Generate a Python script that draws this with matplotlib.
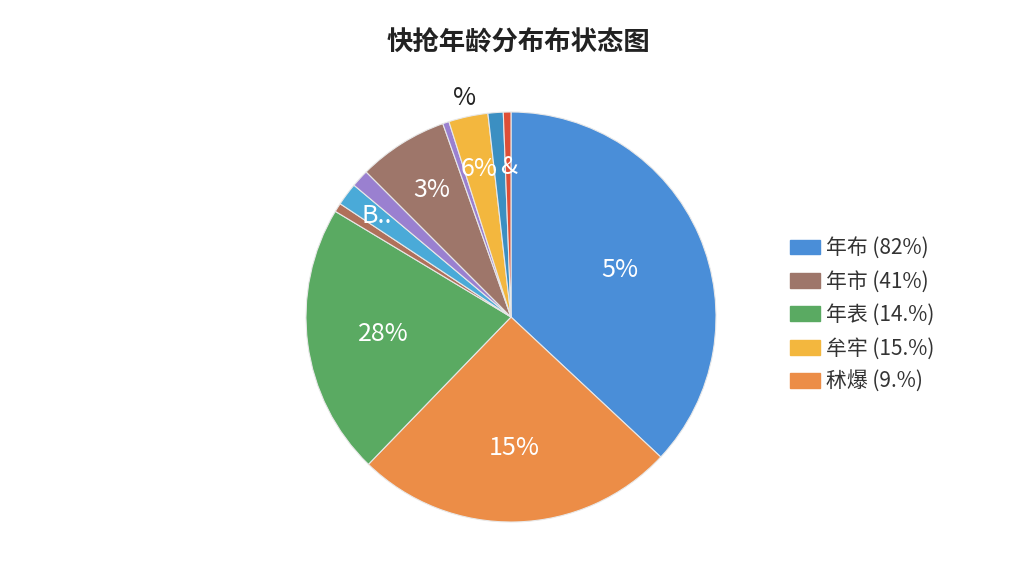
import matplotlib.pyplot as plt
import numpy as np

plt.rcParams['font.family'] = ['Noto Sans CJK SC', 'DejaVu Sans']

# slices, clockwise from 12 o'clock
values = [37.0, 25.3, 21.4, 0.7, 1.8, 1.4, 7.1, 0.5, 3.1, 1.2, 0.6]
colors = ['#4a8ed8', '#ec8d47', '#5aaa62', '#b0705a', '#4aaad8', '#9a80d0',
          '#9e766a', '#9a80d0', '#f3b73e', '#3b8fc2', '#df4f37']
inner_labels = ['5%', '15%', '28%', '', 'B..', '', '3%', '', '6%', '', '&']
outer_labels = ['', '', '', '', '', '', '', '', '%', '', '']

legend_labels = ['年布 (82%)', '年市 (41%)', '年表 (14.%)', '牟牢 (15.%)', '秫爆 (9.%)']
legend_colors = ['#4a8ed8', '#9e766a', '#5aaa62', '#f3b73e', '#ec8d47']

fig = plt.figure(figsize=(10.24, 5.76), dpi=100)
ax = fig.add_axes([306 / 1024, 54 / 576, 410 / 1024, 410 / 576])

wedges, _ = ax.pie(values, colors=colors, startangle=90, counterclock=False,
                   wedgeprops=dict(edgecolor='#e8e8e8', linewidth=0.8))
ax.set_xlim(-1, 1)
ax.set_ylim(-1, 1)
ax.set_aspect('equal')
ax.axis('off')

# radial distance of the label inside each wedge
label_r = [0.58, 0.64, 0.63, 0.7, 0.82, 0.8, 0.73, 0.7, 0.74, 0.73, 0.73]
for w, txt, otxt, r in zip(wedges, inner_labels, outer_labels, label_r):
    ang = np.deg2rad((w.theta1 + w.theta2) / 2)
    if txt:
        ax.text(r * np.cos(ang), r * np.sin(ang), txt, color='white',
                fontsize=18, ha='center', va='center')
    if otxt:
        ax.text(1.09 * np.cos(ang), 1.09 * np.sin(ang), otxt, color='#222222',
                fontsize=18, ha='center', va='center')

fig.text(0.506, 0.925, '快抢年龄分布布状态图', fontsize=19, fontweight='bold',
         ha='center', va='center', color='#222222')

handles = [plt.Rectangle((0, 0), 1, 1, color=c) for c in legend_colors]
fig.legend(handles, legend_labels, loc='center left', bbox_to_anchor=(0.753, 0.453),
           frameon=False, fontsize=15, handlelength=1.45, handleheight=0.7,
           labelspacing=0.55, handletextpad=0.3, labelcolor='#333333')

fig.savefig('out.png', dpi=100)
